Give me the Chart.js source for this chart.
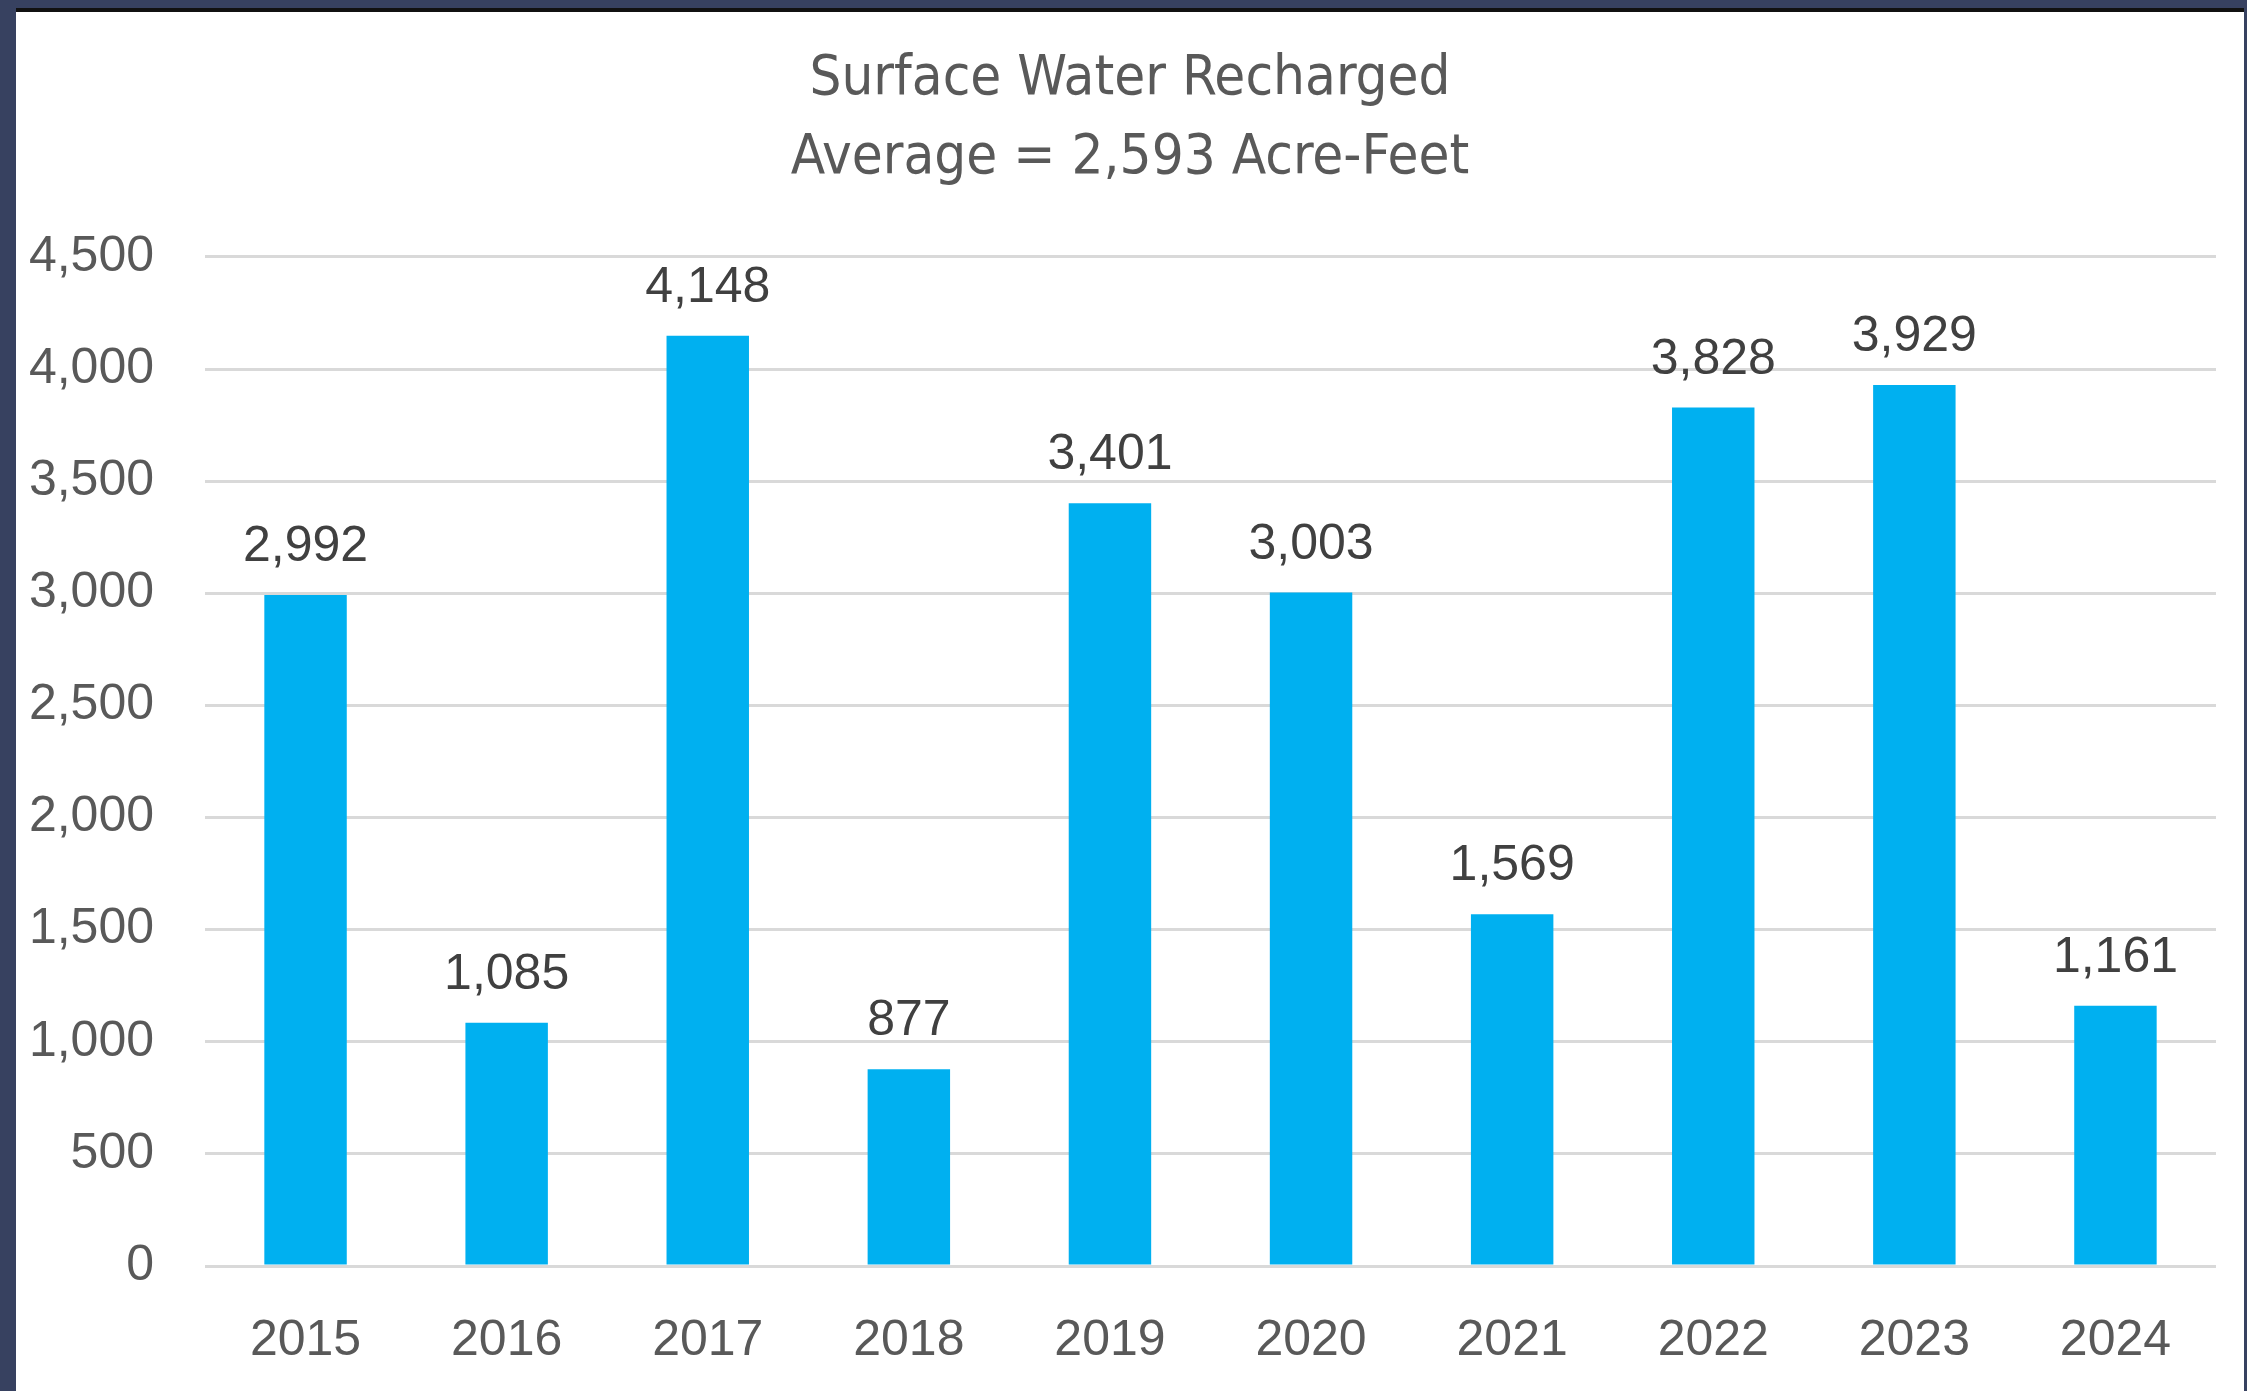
<!DOCTYPE html>
<html>
<head>
<meta charset="utf-8">
<script src="https://cdn.jsdelivr.net/npm/chart.js@4.4.1/dist/chart.umd.min.js"></script>
<style>
    html, body {
        margin: 0;
        padding: 0;
        width: 2247px;
        height: 1391px;
        background: #374160;
        overflow: hidden;
    }
    #topLine {
        position: absolute;
        left: 16px;
        top: 8px;
        width: 2228px;
        height: 4px;
        background: #111111;
    }
    #chartBox {
        position: absolute;
        left: 16px;
        top: 12px;
        width: 2228px;
        height: 1379px;
        background: #ffffff;
    }
</style>
</head>
<body>
<div id="topLine"></div>
<div id="chartBox"><canvas id="recharge-chart" width="2228" height="1379"></canvas></div>
<script>
const years = ['2015', '2016', '2017', '2018', '2019', '2020', '2021', '2022', '2023', '2024'];
const recharged = [2992, 1085, 4148, 877, 3401, 3003, 1569, 3828, 3929, 1161];
const titleLines = ['Surface Water Recharged', 'Average = 2,593 Acre-Feet'];
const yTicks = [0, 500, 1000, 1500, 2000, 2500, 3000, 3500, 4000, 4500];

const baseFont = '"Liberation Sans", Arial, sans-serif';

/* Value labels above each bar */
const barLabels = {
    id: 'barLabels',
    afterDatasetsDraw(chart) {
        const ctx = chart.ctx;
        const meta = chart.getDatasetMeta(0);
        ctx.save();
        ctx.font = '50px ' + baseFont;
        ctx.fillStyle = '#404040';
        ctx.textAlign = 'center';
        ctx.textBaseline = 'alphabetic';
        meta.data.forEach(function (bar, i) {
            ctx.fillText(recharged[i].toLocaleString('en-US'), bar.x, bar.y - 34);
        });
        ctx.restore();
    }
};

function createRechargeChart() {
    const ctx = document.getElementById('recharge-chart').getContext('2d');

    const chart = new Chart(ctx, {
        type: 'bar',
        data: {
            labels: years,
            datasets: [{
                data: recharged,
                backgroundColor: '#00b0f0',
                borderWidth: 0,
                categoryPercentage: 1,
                barPercentage: 0.41
            }]
        },
        options: {
            responsive: false,
            maintainAspectRatio: false,
            animation: false,
            layout: {
                padding: 0
            },
            plugins: {
                legend: { display: false },
                tooltip: { enabled: false },
                title: {
                    display: true,
                    text: titleLines,
                    color: '#595959',
                    font: { family: '"Liberation Sans Narrow", "Arial Narrow", "DejaVu Sans Condensed", sans-serif', size: 56, weight: 'normal', lineHeight: 1.41 },
                    padding: { top: 28, bottom: 59 }
                }
            },
            scales: {
                x: {
                    grid: { display: false, drawTicks: false },
                    border: { display: false },
                    ticks: {
                        color: '#595959',
                        font: { family: baseFont, size: 50 },
                        padding: 45,
                        maxRotation: 0
                    },
                    afterFit: function (scale) {
                        scale.height = 125;
                    }
                },
                y: {
                    min: 0,
                    max: 4500,
                    afterBuildTicks: function (scale) {
                        scale.ticks = yTicks.map(function (v) { return { value: v }; });
                    },
                    grid: { color: '#d9d9d9', lineWidth: 3, drawTicks: false },
                    border: { display: false },
                    ticks: {
                        color: '#595959',
                        font: { family: baseFont, size: 50 },
                        padding: 51,
                        callback: function (value) {
                            return value.toLocaleString('en-US');
                        }
                    },
                    afterFit: function (scale) {
                        scale.width = 189;
                    }
                },
                // empty strip on the right so the title stays centred on the canvas
                yRight: {
                    position: 'right',
                    min: 0,
                    max: 4500,
                    grid: { display: false, drawTicks: false },
                    border: { display: false },
                    ticks: { display: false },
                    afterFit: function (scale) {
                        scale.width = 28;
                    }
                }
            }
        },
        plugins: [barLabels]
    });
}

createRechargeChart();
</script>
</body>
</html>
